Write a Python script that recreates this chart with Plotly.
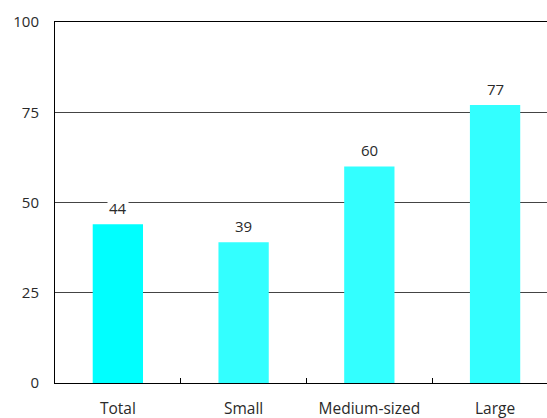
import plotly.graph_objects as go

categories = ["Total", "Small", "Medium-sized", "Large"]
values = [44, 39, 60, 77]
bar_colors = ["#00FFFF", "#33FFFF", "#33FFFF", "#33FFFF"]
y_ticks = [0, 25, 50, 75, 100]

font_family = "Open Sans, Noto Sans, sans-serif"
text_color = "#2a2a2a"

fig = go.Figure()
fig.add_trace(go.Bar(
    x=categories,
    y=values,
    marker=dict(color=bar_colors, line=dict(width=0)),
    width=0.4,
    hoverinfo="skip",
))

annotations = []
for c, v in zip(categories, values):
    annotations.append(dict(
        x=c, y=v, xref="x", yref="y",
        text=str(v), showarrow=False,
        yanchor="middle", yshift=16,
        bgcolor="white", borderpad=1,
        font=dict(family=font_family, size=15, color=text_color),
    ))

fig.update_layout(
    width=547, height=418,
    margin=dict(l=55, r=0, t=22, b=35),
    paper_bgcolor="white",
    plot_bgcolor="white",
    showlegend=False,
    annotations=annotations,
    font=dict(family=font_family, size=15, color=text_color),
)

fig.update_xaxes(
    range=[-0.5, 3.413],
    automargin=False,
    showline=True, linecolor="black", linewidth=1, mirror=True,
    ticks="inside", ticklen=5, tickcolor="black", tickwidth=1,
    tickson="boundaries",
    showgrid=False,
    ticklabelstandoff=11,
    tickfont=dict(family=font_family, size=15.5, color=text_color),
)

fig.update_yaxes(
    range=[0, 100],
    automargin=False,
    tickvals=y_ticks,
    showline=True, linecolor="black", linewidth=1,
    showgrid=True, gridcolor="#444444", gridwidth=1,
    ticks="", ticklabelstandoff=12,
    zeroline=False,
    tickfont=dict(family=font_family, size=15, color=text_color),
)

fig.write_html("out.html")
